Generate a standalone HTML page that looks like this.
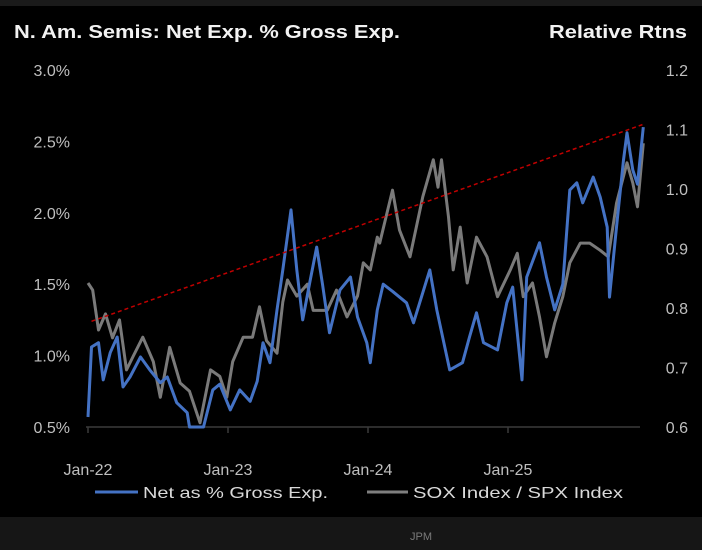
<!DOCTYPE html>
<html><head><meta charset="utf-8"><style>
html,body{margin:0;padding:0;background:#000;}
svg{display:block;font-family:"Liberation Sans",Arial,sans-serif;}
</style></head><body>
<svg id="chart" width="702" height="550" viewBox="0 0 702 550">
<rect x="0" y="0" width="702" height="550" fill="#000"/>
<rect x="0" y="0" width="702" height="6" fill="#1a1a1a"/>
<rect x="0" y="517" width="702" height="33" fill="#161616"/>
<text x="421" y="540" fill="#7a7a7a" font-size="11" text-anchor="middle">JPM</text>
<text x="14" y="38" fill="#f2f2f2" font-size="18" font-weight="bold" textLength="386" lengthAdjust="spacingAndGlyphs">N. Am. Semis: Net Exp. % Gross Exp.</text>
<text x="687" y="38" fill="#f2f2f2" font-size="18" font-weight="bold" text-anchor="end" textLength="138" lengthAdjust="spacingAndGlyphs">Relative Rtns</text>
<g id="axes"></g>
<g id="series"></g>
<g>
<line x1="95" y1="492" x2="138" y2="492" stroke="#4472c4" stroke-width="3"/>
<text x="143" y="498" fill="#d9d9d9" font-size="16" textLength="185" lengthAdjust="spacingAndGlyphs">Net as % Gross Exp.</text>
<line x1="367" y1="492" x2="408" y2="492" stroke="#7f7f7f" stroke-width="3"/>
<text x="413" y="498" fill="#d9d9d9" font-size="16" textLength="210" lengthAdjust="spacingAndGlyphs">SOX Index / SPX Index</text>
</g>
</svg>
<script>
const leftTicks = [0.5, 1.0, 1.5, 2.0, 2.5, 3.0];
const leftTickLabels = ["0.5%", "1.0%", "1.5%", "2.0%", "2.5%", "3.0%"];
const rightTicks = [0.6, 0.7, 0.8, 0.9, 1.0, 1.1, 1.2];
const rightTickLabels = ["0.6", "0.7", "0.8", "0.9", "1.0", "1.1", "1.2"];
const xTicks = [0, 12, 24, 36];
const xTickLabels = ["Jan-22", "Jan-23", "Jan-24", "Jan-25"];
// months since Jan-22
const netMonths = [0,0.3,0.9,1.3,1.9,2.5,3.0,3.6,4.5,5.3,6.2,6.8,7.6,8.5,8.7,9.9,10.7,11.3,12.2,13.0,13.9,14.5,15.0,15.6,16.2,16.7,17.4,17.9,18.4,19.0,19.6,20.1,20.7,21.6,22.5,23.1,23.9,24.2,24.8,25.3,26.1,27.3,27.9,29.3,29.9,31.0,32.1,32.7,33.3,33.9,35.1,35.9,36.4,37.2,37.6,38.7,39.3,40.0,40.7,41.3,41.9,42.4,43.3,43.9,44.5,44.7,45.3,45.9,46.2,46.7,47.1,47.6];
const netValues = [0.57,1.06,1.09,0.83,1.02,1.13,0.78,0.85,0.99,0.9,0.81,0.85,0.67,0.6,0.5,0.5,0.76,0.8,0.62,0.76,0.68,0.82,1.09,0.95,1.32,1.6,2.02,1.6,1.25,1.51,1.76,1.5,1.16,1.46,1.55,1.27,1.09,0.95,1.32,1.5,1.45,1.37,1.23,1.6,1.32,0.9,0.95,1.13,1.3,1.09,1.04,1.37,1.48,0.83,1.55,1.79,1.55,1.32,1.5,2.16,2.21,2.07,2.25,2.11,1.9,1.41,1.9,2.37,2.56,2.3,2.2,2.6];
const soxMonths = [0,0.4,0.9,1.5,2.1,2.7,3.3,3.9,4.7,5.6,6.2,7.0,7.9,8.7,9.6,10.5,11.3,11.9,12.4,13.3,14.1,14.7,15.3,16.2,16.7,17.1,17.9,18.8,19.3,20.5,21.3,22.2,23.1,23.6,24.2,24.8,25.0,26.1,26.7,27.6,28.7,29.6,30.0,30.3,30.9,31.3,31.9,32.5,33.3,34.2,35.1,36.2,36.8,37.3,38.1,38.7,39.3,40.0,40.7,41.3,42.2,43.0,43.9,44.6,45.3,46.2,46.7,47.1,47.6];
const soxValues = [0.842,0.83,0.763,0.79,0.75,0.78,0.696,0.72,0.751,0.71,0.65,0.734,0.674,0.66,0.607,0.696,0.685,0.65,0.71,0.751,0.751,0.802,0.745,0.724,0.81,0.847,0.82,0.84,0.796,0.796,0.83,0.785,0.82,0.876,0.864,0.919,0.909,0.998,0.931,0.886,0.987,1.049,1.003,1.049,0.953,0.864,0.936,0.842,0.919,0.886,0.819,0.864,0.892,0.819,0.842,0.785,0.718,0.775,0.819,0.876,0.909,0.909,0.897,0.886,0.976,1.044,1.01,0.97,1.077];
const trendMonths = [0.3, 47.6];
const trendValues = [1.24, 2.62];

const NS = "http://www.w3.org/2000/svg";
function xScale(m){ return 88 + m * 140 / 12; }
function yLeft(v){ return 427 - (v - 0.5) / 2.5 * 357; }
function yRight(v){ return 427 - (v - 0.6) / 0.6 * 357; }
function mk(tag, attrs, parent){
  const e = document.createElementNS(NS, tag);
  for (const k in attrs) e.setAttribute(k, attrs[k]);
  parent.appendChild(e);
  return e;
}
const axes = document.getElementById("axes");
const series = document.getElementById("series");

const axisLine = mk("line", {x1:86, y1:427, x2:640, y2:427, stroke:"#3a3a3a", "stroke-width":1.5}, axes);



leftTicks.forEach((v, i) => {
  const t = mk("text", {x:70, y:yLeft(v) + 6, fill:"#bfbfbf", "font-size":16, "text-anchor":"end"}, axes);
  t.textContent = leftTickLabels[i];
  
  
});
rightTicks.forEach((v, i) => {
  const t = mk("text", {x:688, y:yRight(v) + 6, fill:"#bfbfbf", "font-size":16, "text-anchor":"end"}, axes);
  t.textContent = rightTickLabels[i];
  
  
});
xTicks.forEach((m, i) => {
  const x = xScale(m);
  const tk = mk("line", {x1:x, y1:427, x2:x, y2:433, stroke:"#3a3a3a", "stroke-width":1.5}, axes);
  
  
  const t = mk("text", {x:x, y:475, fill:"#bfbfbf", "font-size":16, "text-anchor":"middle"}, axes);
  t.textContent = xTickLabels[i];
  
  
});

function path(ms, vs, yf){
  return ms.map((m, i) => (i ? "L" : "M") + xScale(m).toFixed(1) + "," + yf(vs[i]).toFixed(1)).join(" ");
}
const sox = mk("path", {d:path(soxMonths, soxValues, yRight), fill:"none", stroke:"#7a7a7a", "stroke-width":3, "stroke-linejoin":"round"}, series);


const net = mk("path", {d:path(netMonths, netValues, yLeft), fill:"none", stroke:"#4472c4", "stroke-width":3, "stroke-linejoin":"round"}, series);


const trend = mk("path", {d:path(trendMonths, trendValues, yLeft), fill:"none", stroke:"#c00000", "stroke-width":1.5, "stroke-dasharray":"4,3"}, series);


</script>
</body></html>
